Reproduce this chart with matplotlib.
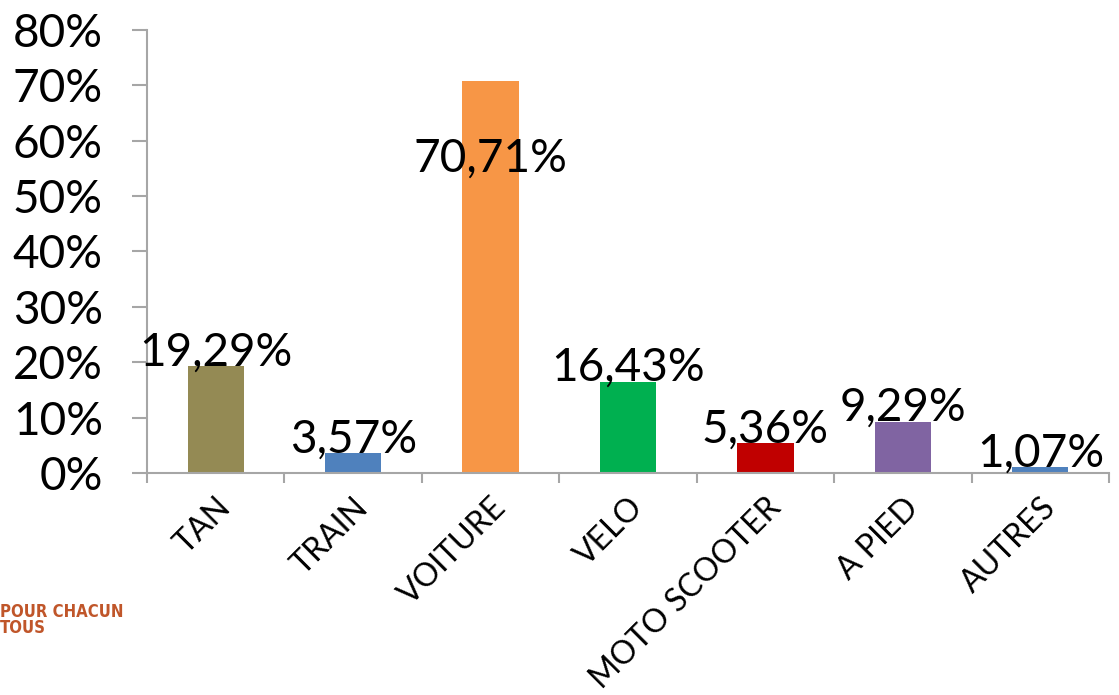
import numpy as np
import matplotlib.pyplot as plt

categories = ['TAN', 'TRAIN', 'VOITURE', 'VELO', 'MOTO SCOOTER', 'A PIED', 'AUTRES']
values = [19.29, 3.57, 70.71, 16.43, 5.36, 9.29, 1.07]
labels = ['19,29%', '3,57%', '70,71%', '16,43%', '5,36%', '9,29%', '1,07%']
colors = ['#948A54', '#4F81BD', '#F79646', '#00B050', '#C00000', '#8064A2', '#4F81BD']

plt.rcParams['font.family'] = ['Lato', 'DejaVu Sans']
axis_gray = '#A6A6A6'

fig = plt.figure(figsize=(11.19, 6.95), dpi=100)
ax = fig.add_axes([147/1119, 1 - 473/695, (1109 - 147)/1119, (473 - 30)/695])

x = np.arange(len(categories))
ax.bar(x, values, width=0.41, color=colors, zorder=2)

for xi, v, lab in zip(x, values, labels):
    if v > 60:
        # no room above: Excel drops the label inside the bar
        ax.text(xi, v - 14, lab, ha='center', va='center', fontsize=33)
    else:
        ax.text(xi, v + 2.5, lab, ha='center', va='center', fontsize=33)

ax.set_xlim(-0.5, len(categories) - 0.5)
ax.set_ylim(0, 80)
ax.set_yticks(np.arange(0, 81, 10))
ax.set_yticklabels([f'{t}%' for t in range(0, 81, 10)], fontsize=33)
ax.set_xticks(np.arange(-0.5, len(categories)), minor=False)
ax.set_xticklabels([])
ax.set_xticks(x, minor=True)
ax.set_xticklabels(categories, minor=True, rotation=45, ha='right',
                   rotation_mode='anchor', fontsize=23)
ax.tick_params(axis='x', which='minor', length=0, pad=14)
ax.tick_params(axis='x', which='major', length=7.2, width=1.5, color=axis_gray)
ax.tick_params(axis='y', length=10.8, width=1.5, color=axis_gray, pad=21)

for s in ['top', 'right']:
    ax.spines[s].set_visible(False)
for s in ['left', 'bottom']:
    ax.spines[s].set_color(axis_gray)
    ax.spines[s].set_linewidth(1.5)

fig.text(0, 1 - 620/695, 'POUR CHACUN\nTOUS', color='#C0562A', fontsize=12,
         fontweight='bold', va='center', ha='left', linespacing=0.9,
         fontstretch='condensed', family=['DejaVu Sans'])

fig.savefig('out.png', dpi=100)
